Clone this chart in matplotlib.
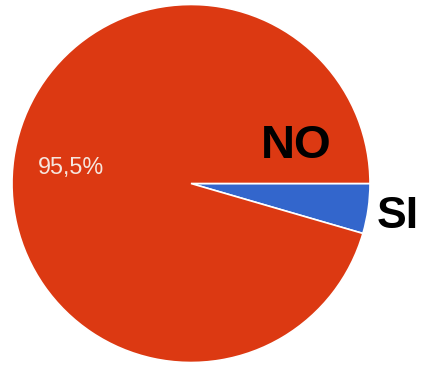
import matplotlib
matplotlib.use("Agg")
import matplotlib.pyplot as plt

# Survey answers and their shares
labels = ["SI", "NO"]
shares = [4.5, 95.5]
colors = ["#3366CC", "#DC3912"]

W, H, DPI = 423, 366, 100
fig = plt.figure(figsize=(W / DPI, H / DPI), dpi=DPI)
ax = fig.add_axes([0, 0, 1, 1])

wedges, _ = ax.pie(
    shares, colors=colors, startangle=0, counterclock=False, radius=1.0,
    wedgeprops=dict(edgecolor="white", linewidth=1.2),
)

# pie geometry in pixels
cx, cy, r = 191.0, 183.5, 179.0
ax.set_xlim(-cx / r, (W - cx) / r)
ax.set_ylim(-(H - cy) / r, cy / r)
ax.set_aspect("equal")
ax.axis("off")

font = ["Liberation Sans", "DejaVu Sans"]
ax.text(0.587, 0.212, "NO", fontsize=34, fontweight="bold", family=font,
        color="black", ha="center", va="center")
ax.text(1.154, -0.182, "SI", fontsize=32, fontweight="bold", family=font,
        color="black", ha="center", va="center")

pct = f"{shares[1]:.1f}%".replace(".", ",")
ax.text(-0.673, 0.087, pct, fontsize=16.8, family=font, color="#f6e6de",
        ha="center", va="center")

fig.savefig("out.png", dpi=DPI)
